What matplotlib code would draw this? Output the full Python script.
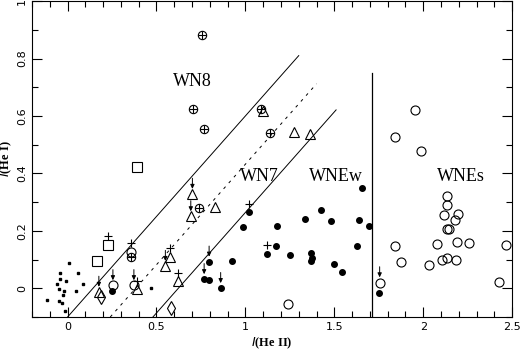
import matplotlib
matplotlib.use('Agg')
import matplotlib.pyplot as plt
from matplotlib.ticker import MultipleLocator

plt.rcParams['font.family'] = ['Liberation Serif', 'DejaVu Serif']

# circle with plus
oplus_x = [0.758, 0.708, 0.768, 1.087, 1.137, 0.738, 0.355]
oplus_y = [0.882, 0.625, 0.555, 0.624, 0.540, 0.278, 0.110]

# open triangles
tri_x = [0.176, 0.392, 0.550, 0.574, 0.623, 0.702, 0.693, 0.831, 1.274, 1.363, 1.097]
tri_y = [-0.013, -0.004, 0.077, 0.109, 0.024, 0.328, 0.250, 0.282, 0.545, 0.537, 0.618]

# filled dots
dot_x = [0.250, 0.796, 0.768, 0.796, 0.861, 0.927, 0.987, 1.023, 1.119, 1.173, 1.177,
         1.252, 1.338, 1.368, 1.376, 1.368, 1.426, 1.479, 1.498, 1.543, 1.629, 1.640,
         1.654, 1.697, 1.753]
dot_y = [-0.008, 0.092, 0.031, 0.028, 0.000, 0.096, 0.214, 0.265, 0.120, 0.148, 0.217,
         0.117, 0.242, 0.124, 0.104, 0.094, 0.274, 0.236, 0.083, 0.058, 0.148, 0.238,
         0.349, 0.216, -0.017]

# open circles
circ_x = [0.255, 0.373, 0.358, 1.239, 1.755, 1.956, 1.843, 1.988, 2.132, 2.136, 2.115,
          2.196, 2.177, 2.134, 2.144, 1.839, 2.078, 2.188, 2.256, 2.464, 1.877, 2.031,
          2.108, 2.131, 2.183, 2.425]
circ_y = [0.010, 0.010, 0.125, -0.053, 0.020, 0.619, 0.526, 0.478, 0.320, 0.289, 0.256,
          0.259, 0.239, 0.205, 0.205, 0.148, 0.153, 0.162, 0.156, 0.151, 0.092, 0.080,
          0.100, 0.107, 0.100, 0.023]

# open squares
sq_x = [0.229, 0.163, 0.389]
sq_y = [0.151, 0.095, 0.424]

# diamonds
dia_x = [0.186, 0.580]
dia_y = [-0.030, -0.068]

# tiny symbols near the origin
tiny_x = [-0.043, 0.007, 0.056, -0.040, -0.007, -0.060, 0.088, -0.049, -0.021, -0.023,
          0.045, -0.118, -0.049, -0.030, -0.017, 0.469]
tiny_y = [0.054, 0.089, 0.053, 0.031, 0.025, 0.016, 0.016, -0.003, -0.009, -0.022,
          -0.010, -0.040, -0.044, -0.050, -0.079, 0.002]

# upper limits (arrow above) and crosses above
lim_x = [0.176, 0.255, 0.373, 0.550, 0.702, 0.693, 0.796, 0.768, 0.861, 1.755]
lim_y = [-0.013, 0.010, 0.010, 0.077, 0.328, 0.250, 0.092, 0.031, 0.000, 0.020]
crs_x = [0.229, 0.358, 0.392, 0.574, 0.623, 1.023, 1.119]
crs_y = [0.151, 0.126, -0.004, 0.109, 0.024, 0.265, 0.120]

# boundary lines
slope = 0.7
starts = [0.0, 0.24, 0.48]
ends = [1.30, 1.40, 1.51]
styles = ['-', '--', '-']
div_x = 1.71
div_top = 0.75

labels = ['WN8', 'WN7', 'WNEw', 'WNEs']
lab_x = [0.70, 1.08, 1.51, 2.21]
lab_y = [0.72, 0.39, 0.39, 0.39]

fig = plt.figure(figsize=(5.21, 3.52), dpi=100)
ax = fig.add_axes([0.0614, 0.0994, 0.9216, 0.8976])

for x0, x1, ls in zip(starts, ends, styles):
    if ls == '--':
        ax.plot([x0, x1], [-0.1, -0.1 + slope * (x1 - x0)], color='k', lw=0.7, dashes=(3, 5))
    else:
        ax.plot([x0, x1], [-0.1, -0.1 + slope * (x1 - x0)], color='k', lw=0.7)
ax.plot([div_x, div_x], [-0.1, div_top], color='k', lw=0.9)

kw = dict(ls='none', color='k', mfc='none', mew=0.8)
ax.plot(oplus_x, oplus_y, marker='o', ms=6, **kw)
ax.plot(oplus_x, oplus_y, marker='+', ms=6, **kw)
ax.plot(tri_x, tri_y, marker='^', ms=6.5, **kw)
ax.plot(circ_x, circ_y, marker='o', ms=6.5, **kw)
ax.plot(sq_x, sq_y, marker='s', ms=7, **kw)
ax.plot(dia_x, dia_y, marker='d', ms=7, **kw)
ax.plot(dot_x, dot_y, marker='o', ms=4, ls='none', color='k')
ax.plot(tiny_x, tiny_y, marker='s', ms=2, ls='none', color='k')
for x, y in zip(lim_x, lim_y):
    ax.annotate('', xy=(x, y + 0.018), xytext=(x, y + 0.055),
                arrowprops=dict(arrowstyle='-|>,head_length=0.25,head_width=0.12',
                                color='k', lw=0.7, shrinkA=0, shrinkB=0))
ax.plot(crs_x, [v + 0.03 for v in crs_y], marker='+', ms=6, ls='none', color='k', mew=0.8)

for t, x, y in zip(labels, lab_x, lab_y):
    ax.text(x, y, t, fontsize=13, ha='center', va='center')

ax.set_xlim(-0.2, 2.5)
ax.set_ylim(-0.1, 1.0)
ax.xaxis.set_major_locator(MultipleLocator(0.5))
ax.xaxis.set_minor_locator(MultipleLocator(0.1))
ax.yaxis.set_major_locator(MultipleLocator(0.2))
ax.yaxis.set_minor_locator(MultipleLocator(0.1))
ax.tick_params(which='both', direction='in', top=True, right=True, width=0.8)
ax.tick_params(which='major', length=7, labelsize=8)
ax.tick_params(which='minor', length=4)
ax.set_xticks([0, 0.5, 1, 1.5, 2, 2.5])
ax.set_xticklabels(['0', '0.5', '1', '1.5', '2', '2.5'], family='DejaVu Sans')
ax.set_yticks([0, 0.2, 0.4, 0.6, 0.8, 1.0])
ax.set_yticklabels(['0', '0.2', '0.4', '0.6', '0.8', '1'], family='DejaVu Sans',
                   rotation=90, va='center')
ax.set_xlabel('$I$(He II)', fontsize=9, fontweight='bold', labelpad=3)
ax.set_ylabel('$I$(He I)', fontsize=9, fontweight='bold', labelpad=2)

plt.savefig('out.png', dpi=100)
